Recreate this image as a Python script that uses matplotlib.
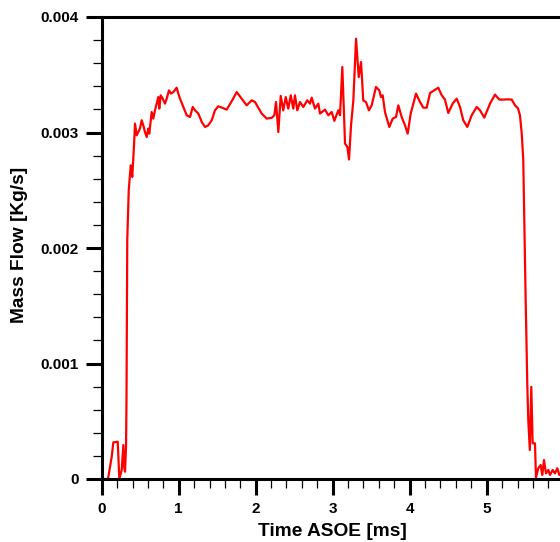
import numpy as np
import matplotlib
matplotlib.use('Agg')
matplotlib.rcParams['font.family'] = 'Liberation Sans'
matplotlib.rcParams['font.weight'] = 'bold'
import matplotlib.pyplot as plt
from matplotlib.ticker import MultipleLocator

# time after start of energizing [ms]
t = [0.0, 0.082, 0.130, 0.151, 0.208, 0.229, 0.260, 0.281, 0.294, 0.303,
     0.316, 0.322, 0.332, 0.351, 0.377, 0.397, 0.423, 0.432, 0.455, 0.475,
     0.497, 0.519, 0.540, 0.562, 0.584, 0.605, 0.618, 0.649, 0.670, 0.692,
     0.714, 0.735, 0.748, 0.766, 0.792, 0.822, 0.844, 0.874, 0.900, 0.930,
     0.974, 0.995, 1.017, 1.060, 1.104, 1.147, 1.182, 1.212, 1.255, 1.299,
     1.342, 1.384, 1.429, 1.471, 1.514, 1.562, 1.623, 1.688, 1.753, 1.818,
     1.883, 1.948, 1.991, 2.078, 2.143, 2.208, 2.242, 2.264, 2.294, 2.325,
     2.358, 2.390, 2.423, 2.455, 2.488, 2.510, 2.540, 2.575, 2.618, 2.670,
     2.705, 2.727, 2.770, 2.813, 2.835, 2.900, 2.943, 2.987, 3.021, 3.073,
     3.095, 3.125, 3.160, 3.190, 3.212, 3.238, 3.268, 3.303, 3.338, 3.368,
     3.397, 3.432, 3.471, 3.506, 3.562, 3.605, 3.627, 3.649, 3.679, 3.735,
     3.779, 3.822, 3.852, 3.896, 3.939, 3.974, 4.013, 4.082, 4.134, 4.177,
     4.221, 4.264, 4.319, 4.371, 4.416, 4.458, 4.501, 4.558, 4.610, 4.653,
     4.696, 4.748, 4.805, 4.870, 4.913, 4.969, 5.043, 5.108, 5.164, 5.216,
     5.281, 5.325, 5.368, 5.406, 5.432, 5.455, 5.468, 5.475, 5.484, 5.506,
     5.527, 5.540, 5.560, 5.579, 5.597, 5.627, 5.640, 5.670, 5.701, 5.722,
     5.744, 5.770, 5.800, 5.822, 5.857, 5.887, 5.917, 5.943, 5.978]

# mass flow [1e-3 kg/s]
mflow = [0.0, 0.0, 0.193, 0.317, 0.323, 0.0, 0.078, 0.294, 0.095, 0.063,
         0.279, 0.683, 2.067, 2.500, 2.716, 2.615, 2.933, 3.077, 2.976, 3.004,
         3.034, 3.106, 3.062, 3.004, 2.961, 3.034, 2.990, 3.177, 3.120, 3.192,
         3.250, 3.307, 3.207, 3.322, 3.293, 3.250, 3.293, 3.365, 3.337, 3.350,
         3.388, 3.337, 3.293, 3.221, 3.149, 3.134, 3.221, 3.192, 3.164, 3.091,
         3.048, 3.062, 3.106, 3.192, 3.227, 3.215, 3.198, 3.270, 3.350, 3.293,
         3.235, 3.279, 3.264, 3.164, 3.120, 3.127, 3.149, 3.264, 3.004, 3.317,
         3.192, 3.307, 3.207, 3.322, 3.207, 3.322, 3.192, 3.264, 3.221, 3.279,
         3.250, 3.302, 3.207, 3.250, 3.164, 3.198, 3.149, 3.177, 3.101, 3.192,
         3.149, 3.567, 2.904, 2.875, 2.766, 3.062, 3.277, 3.812, 3.480, 3.610,
         3.277, 3.264, 3.192, 3.235, 3.394, 3.365, 3.307, 3.322, 3.177, 3.048,
         3.120, 3.134, 3.235, 3.134, 3.062, 2.990, 3.164, 3.337, 3.264, 3.215,
         3.215, 3.342, 3.365, 3.388, 3.322, 3.285, 3.169, 3.250, 3.293, 3.221,
         3.106, 3.048, 3.149, 3.221, 3.192, 3.129, 3.250, 3.328, 3.285, 3.285,
         3.287, 3.285, 3.235, 3.209, 3.149, 2.990, 2.846, 2.760, 2.413, 1.548,
         0.827, 0.510, 0.251, 0.798, 0.309, 0.309, 0.013, 0.093, 0.121, 0.035,
         0.164, 0.049, 0.078, 0.035, 0.078, 0.049, 0.093, 0.035, 0.060]

yticks = [0, 0.001, 0.002, 0.003, 0.004]
ytick_labels = ['0', '0.001', '0.002', '0.003', '0.004']
xticks = [0, 1, 2, 3, 4, 5, 6]

fig = plt.figure(figsize=(5.6, 5.42), dpi=100)
ax = fig.add_axes([101.7 / 560, 63 / 542, 462 / 560, 462 / 542])

ax.plot(t, np.array(mflow) * 1e-3, color='red', lw=1.6)

ax.set_xlim(0, 6)
ax.set_ylim(0, 0.004)
ax.set_xticks(xticks)
ax.set_xticklabels([str(v) for v in xticks])
ax.set_yticks(yticks)
ax.set_yticklabels(ytick_labels)
ax.xaxis.set_minor_locator(MultipleLocator(0.2))
ax.yaxis.set_minor_locator(MultipleLocator(0.0002))

for s in ax.spines.values():
    s.set_linewidth(2.2)
ax.tick_params(which='major', direction='out', length=11.5, width=2.2,
               labelsize=11)
ax.tick_params(axis='x', which='major', pad=5)
ax.tick_params(axis='y', which='major', pad=5)
ax.tick_params(which='minor', direction='out', length=6.5, width=0.9)
ax.tick_params(top=False, right=False, which='both')

ax.set_xlabel('Time ASOE [ms]', fontsize=13.8, fontweight='bold', va='center')
ax.set_ylabel('Mass Flow [Kg/s]', fontsize=13.8, fontweight='bold', va='center')
ax.xaxis.set_label_coords(0.4985, -0.1126)
ax.yaxis.set_label_coords(-0.177, 0.506)

fig.savefig('out.png', dpi=100)
